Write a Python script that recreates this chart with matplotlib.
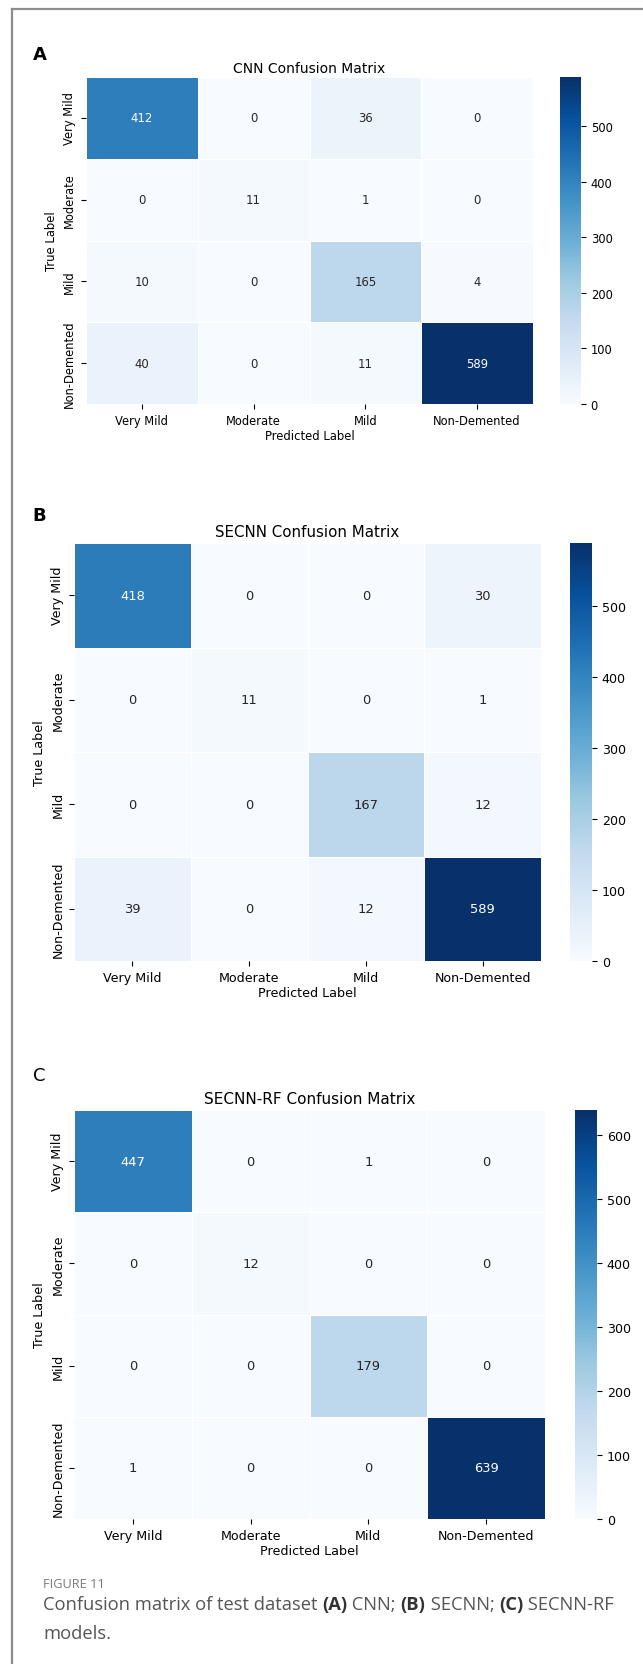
import matplotlib
matplotlib.use("Agg")
import matplotlib.pyplot as plt
import numpy as np
import seaborn as sns
from matplotlib.lines import Line2D

W, H = 643, 1665

classes = ["Very Mild", "Moderate", "Mild", "Non-Demented"]

cnn_cm = [[412, 0, 36, 0],
          [0, 11, 1, 0],
          [10, 0, 165, 4],
          [40, 0, 11, 589]]
secnn_cm = [[418, 0, 0, 30],
            [0, 11, 0, 1],
            [0, 0, 167, 12],
            [39, 0, 12, 589]]
secnn_rf_cm = [[447, 0, 1, 0],
               [0, 12, 0, 0],
               [0, 0, 179, 0],
               [1, 0, 0, 639]]

titles = ["CNN Confusion Matrix", "SECNN Confusion Matrix", "SECNN-RF Confusion Matrix"]
letters = ["A", "B", "C"]
matrices = [cnn_cm, secnn_cm, secnn_rf_cm]


def box(l, t, r, b):
    # pixel box (from top-left) -> figure fraction rect
    return [l / W, 1 - b / H, (r - l) / W, (b - t) / H]


# layout per panel: heatmap box, colorbar box, letter pos, font sizes
layout = [
    dict(heat=(86, 78, 533, 405), cbar=(560, 78, 581, 405), letter=(33, 60, "bold"),
         annot=8.4, tick=8.3, label=8.4, title=10, tpad=3.5),
    dict(heat=(74, 544, 541, 962), cbar=(570, 544, 592, 962), letter=(32, 521, "bold"),
         annot=9.4, tick=9.1, label=9.2, title=10.8, tpad=5),
    dict(heat=(74, 1111, 545, 1520), cbar=(575, 1111, 597, 1520), letter=(33, 1081, "normal"),
         annot=9.4, tick=9.1, label=9.2, title=11, tpad=5),
]

fig = plt.figure(figsize=(W / 100, H / 100), dpi=100)

for cm, title, letter, lay in zip(matrices, titles, letters, layout):
    ax = fig.add_axes(box(*lay["heat"]))
    cax = fig.add_axes(box(*lay["cbar"]))
    sns.heatmap(np.array(cm), annot=True, fmt="d", cmap="Blues",
                linewidths=0.5, linecolor="white",
                xticklabels=classes, yticklabels=classes,
                ax=ax, cbar_ax=cax, annot_kws={"size": lay["annot"]})
    ax.set_title(title, fontsize=lay["title"], pad=lay["tpad"])
    ax.set_xlabel("Predicted Label", fontsize=lay["label"], labelpad=2)
    ax.set_ylabel("True Label", fontsize=lay["label"])
    ax.tick_params(labelsize=lay["tick"])
    plt.setp(ax.get_yticklabels(), rotation=90, va="center")
    plt.setp(ax.get_xticklabels(), rotation=0)
    cax.tick_params(labelsize=lay["tick"])
    lx, ly, lw = lay["letter"]
    fig.text(lx / W, 1 - ly / H, letter, fontsize=13, fontweight=lw, va="baseline")

# grey frame lines on top and left
frame_c = "#8c8c8c"
fig.add_artist(Line2D([12 / W, 1], [1 - 10 / H, 1 - 10 / H], color=frame_c, lw=1.6,
                      transform=fig.transFigure))
fig.add_artist(Line2D([12 / W, 12 / W], [0, 1 - 10 / H], color=frame_c, lw=1.6,
                      transform=fig.transFigure))

# caption
cap = fig.add_axes([0, 0, 1, 1])
cap.axis("off")
cap_font = dict(family=["Open Sans", "DejaVu Sans"], fontsize=13.2)
cap.text(43 / W, 1 - 1588 / H, "FIGURE 11", color="#7a7a7a",
         family=["Open Sans", "DejaVu Sans"], fontsize=9.2, va="baseline")
pieces = [("Confusion matrix of test dataset ", "normal"), ("(A)", "bold"), (" CNN; ", "normal"),
          ("(B)", "bold"), (" SECNN; ", "normal"), ("(C)", "bold"), (" SECNN-RF", "normal")]
prev = cap.text(43 / W, 1 - 1614 / H, "", color="#555555", va="baseline", **cap_font)
for txt, wt in pieces:
    prev = cap.annotate(txt, xy=(1, 0), xycoords=prev, va="bottom", ha="left",
                        color="#333333" if wt == "bold" else "#555555",
                        fontweight=wt, **cap_font)
cap.text(43 / W, 1 - 1639 / H, "models.", color="#555555", va="baseline", **cap_font)

fig.savefig("out.png", dpi=100)
